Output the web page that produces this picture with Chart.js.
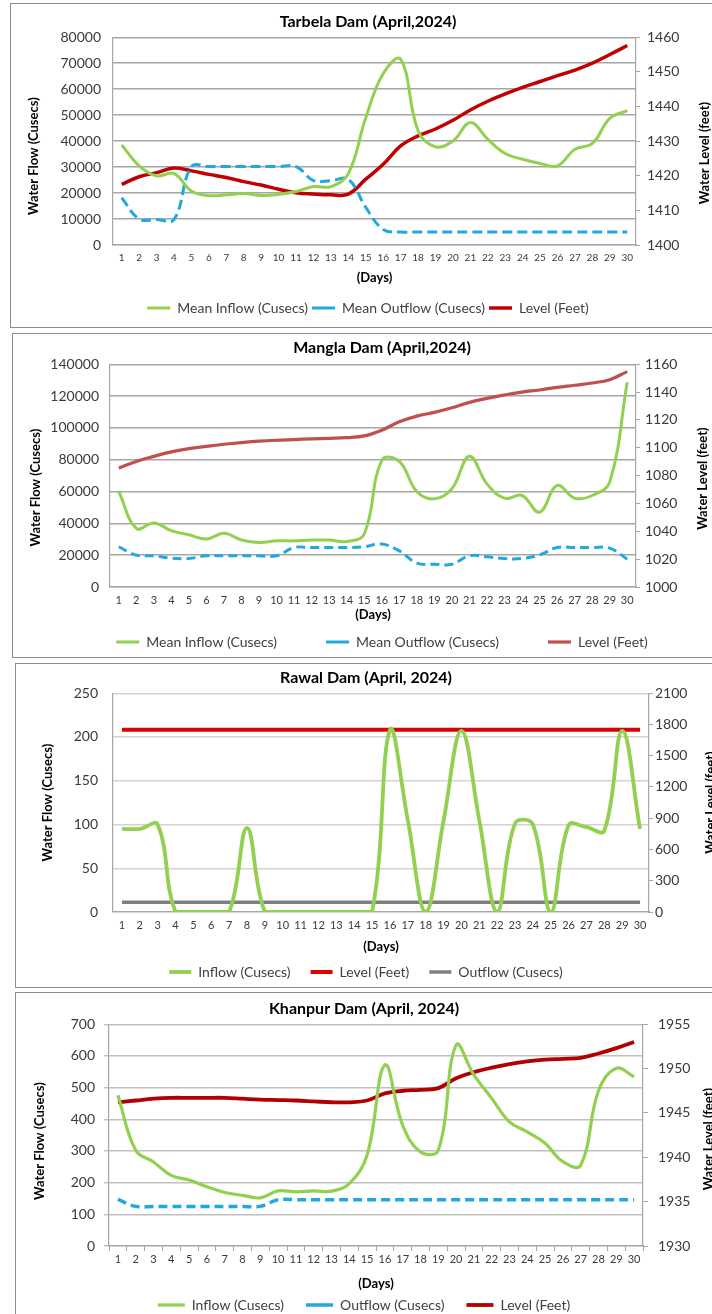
<!DOCTYPE html>
<html>
<head>
<meta charset="utf-8">
<title>Dams - April 2024</title>
<script src="https://cdn.jsdelivr.net/npm/chart.js@4.4.1/dist/chart.umd.min.js"></script>
<style>
  html, body { margin: 0; padding: 0; background: #fff; }
  body { width: 712px; height: 1314px; overflow: hidden; position: relative; }
  .panel { position: absolute; border: 1px solid #8c8c8c; overflow: hidden; background: #fff; }
  .panel canvas { position: absolute; left: 0; top: 0; }
</style>
</head>
<body>
<div class="panel" style="left:10px; top:3px; width:740px; height:323px;"><canvas id="tarbela" width="714" height="322"></canvas></div>
<div class="panel" style="left:12px; top:333px; width:740px; height:323px;"><canvas id="mangla" width="738" height="323"></canvas></div>
<div class="panel" style="left:15px; top:663px; width:740px; height:323px;"><canvas id="rawal" width="700" height="323"></canvas></div>
<div class="panel" style="left:15px; top:992px; width:740px; height:330px;"><canvas id="khanpur" width="696" height="321"></canvas></div>

<script>
// days of April
const days = ['1', '2', '3', '4', '5', '6', '7', '8', '9', '10', '11', '12', '13', '14', '15',
  '16', '17', '18', '19', '20', '21', '22', '23', '24', '25', '26', '27', '28', '29', '30'];

// Tarbela (cusecs / feet)
const tarbelaInflow = [38500, 30500, 26600, 27500, 20800, 19000, 19300, 19800, 19100, 19500, 20600, 22500, 22500, 27500, 49000,
  66000, 71500, 44000, 37800, 40000, 47200, 40700, 35200, 33000, 31400, 30500, 36900, 39100, 48800, 51700];
const tarbelaOutflow = [18200, 10000, 9800, 9800, 30200, 30200, 30200, 30200, 30200, 30200, 30200, 24800, 24800, 25300, 14500,
  6000, 5000, 5000, 5000, 5000, 5000, 5000, 5000, 5000, 5000, 5000, 5000, 5000, 5000, 5000];
const tarbelaLevel = [1417.5, 1419.7, 1420.9, 1422.2, 1421.4, 1420.4, 1419.5, 1418.3, 1417.3, 1416.1, 1415.1, 1414.7, 1414.5, 1414.7, 1419,
  1423.3, 1428.6, 1431.5, 1433.5, 1436, 1439, 1441.5, 1443.6, 1445.5, 1447.2, 1448.9, 1450.5, 1452.5, 1455, 1457.6];

// Mangla
const manglaInflow = [60000, 36800, 40200, 35400, 32800, 30100, 33700, 29500, 28000, 29000, 29000, 29500, 29500, 28600, 33300,
  79600, 79000, 60000, 55400, 61700, 82100, 64800, 55800, 57500, 47000, 63800, 55800, 57500, 65900, 128600];
const manglaOutflow = [25300, 20000, 19600, 18100, 17900, 19600, 19600, 19600, 19600, 19600, 24800, 24800, 24800, 24800, 25300,
  27000, 22700, 15000, 14300, 14300, 19600, 19000, 17900, 17900, 20200, 24800, 24800, 24800, 24400, 17500];
const manglaLevel = [1085.4, 1090.2, 1093.8, 1097, 1099.4, 1101, 1102.5, 1103.7, 1104.7, 1105.4, 1105.9, 1106.4, 1106.8, 1107.3, 1108.5,
  1112.6, 1118.6, 1122.7, 1125.4, 1128.7, 1132.6, 1135.5, 1137.9, 1140, 1141.5, 1143.4, 1144.9, 1146.5, 1148.9, 1154.7];

// Rawal
const rawalInflow = [95, 95, 100, 0, 0, 0, 0, 96, 0, 0, 0, 0, 0, 0, 0,
  208, 105, 0, 104, 207, 105, 0, 101, 100, 0, 99, 97, 93, 207, 95];
const rawalLevel = [1750, 1750, 1750, 1750, 1750, 1750, 1750, 1750, 1750, 1750, 1750, 1750, 1750, 1750, 1750,
  1750, 1750, 1750, 1750, 1750, 1750, 1750, 1750, 1750, 1750, 1750, 1750, 1750, 1750, 1750];
const rawalOutflow = [11, 11, 11, 11, 11, 11, 11, 11, 11, 11, 11, 11, 11, 11, 11,
  11, 11, 11, 11, 11, 11, 11, 11, 11, 11, 11, 11, 11, 11, 11];

// Khanpur
const khanpurInflow = [476, 302, 265, 223, 208, 187, 169, 160, 152, 174, 171, 174, 173, 197, 287,
  571, 381, 297, 302, 634, 540, 466, 392, 360, 324, 266, 255, 490, 561, 534];
const khanpurOutflow = [147, 125, 125, 125, 125, 125, 125, 125, 125, 146, 146, 146, 146, 146, 146,
  146, 146, 146, 146, 146, 146, 146, 146, 146, 146, 146, 146, 146, 146, 146];
const khanpurLevel = [1946.2, 1946.4, 1946.6, 1946.7, 1946.7, 1946.7, 1946.7, 1946.6, 1946.5, 1946.45, 1946.4, 1946.3, 1946.2, 1946.2, 1946.4,
  1947.2, 1947.5, 1947.6, 1947.8, 1948.9, 1949.6, 1950.1, 1950.5, 1950.8, 1951, 1951.1, 1951.2, 1951.7, 1952.3, 1953];

const GREEN = '#92d050';
const BLUE = '#21a8e0';

Chart.defaults.font.family = 'Lato, "Noto Sans", sans-serif';
Chart.defaults.color = '#3a3a3a';

// axis titles drawn bottom-to-top on both sides, like the spreadsheet original
const sideTitles = {
  id: 'sideTitles',
  afterDraw(chart, args, opts) {
    const { ctx, chartArea } = chart;
    const mid = (chartArea.top + chartArea.bottom) / 2;
    (opts.items || []).forEach(t => {
      ctx.save();
      ctx.translate(t.x, mid + t.dy);
      ctx.rotate(-Math.PI / 2);
      ctx.font = 'bold 13px Lato, "Noto Sans", sans-serif';
      ctx.fillStyle = '#000';
      ctx.textAlign = 'center';
      ctx.textBaseline = 'middle';
      ctx.fillText(t.text, 0, 0);
      ctx.restore();
    });
  }
};

function series(label, data, color, width, axis, dash) {
  return {
    label: label,
    data: data,
    borderColor: color,
    backgroundColor: color,
    borderWidth: width,
    borderDash: dash || [],
    pointRadius: 0,
    tension: 0.4,
    fill: false,
    yAxisID: axis
  };
}

function damChart(id, s) {
  const tickNum = v => String(v);
  // wide legend gaps without a tall legend box: pad the text, not the box
  const legendLabels = chart => {
    const items = Chart.defaults.plugins.legend.labels.generateLabels(chart);
    items.forEach((it, i) => {
      if (i < items.length - 1) it.text += ' '.repeat(s.legendSpaces || 0);
    });
    return items;
  };
  return new Chart(document.getElementById(id), {
    type: 'line',
    data: { labels: days, datasets: s.datasets },
    plugins: [sideTitles],
    options: {
      responsive: false,
      animation: false,
      events: [],
      layout: { padding: { left: 0, right: 0, top: 0, bottom: s.padBottom } },
      plugins: {
        title: {
          display: true, text: s.title, color: '#000',
          font: { size: 16, weight: 'bold' },
          padding: { top: s.titleTop, bottom: s.titleBottom }
        },
        legend: {
          position: 'bottom',
          maxHeight: s.legendHeight,
          labels: {
            usePointStyle: true, pointStyle: 'line', pointStyleWidth: s.swatch,
            padding: s.legendGap, color: '#404040', font: { size: 14 },
            generateLabels: legendLabels
          }
        },
        tooltip: { enabled: false },
        sideTitles: {
          items: [
            { text: 'Water Flow (Cusecs)', x: s.leftTitle[0], dy: s.leftTitle[1] },
            { text: 'Water Level (feet)', x: s.rightTitle[0], dy: s.rightTitle[1] }
          ]
        }
      },
      scales: {
        x: {
          offset: true,
          grid: { display: s.xTicks, offset: true, drawOnChartArea: false, drawTicks: s.xTicks, tickLength: 5, color: '#a6a6a6' },
          border: { display: true, color: '#a6a6a6', width: 1.2 },
          ticks: { color: '#3a3a3a', font: { size: s.xFont }, padding: s.xPad, maxRotation: 0, autoSkip: false },
          title: { display: true, text: '(Days)', color: '#000', font: { size: 13, weight: 'bold' }, padding: { top: 0, bottom: s.daysPad } },
          afterFit: sc => { sc.height = s.xHeight; }
        },
        y: {
          position: 'left',
          min: s.y[0], max: s.y[1],
          ticks: { stepSize: s.y[2], padding: s.yPad, font: { size: 14 }, callback: tickNum },
          grid: { color: s.grid, lineWidth: 1.4, drawTicks: s.yTicks, tickLength: 5 },
          border: { display: true, color: '#a6a6a6', width: 1.2 },
          afterFit: sc => { sc.width = s.yWidth; }
        },
        y1: {
          position: 'right',
          min: s.y1[0], max: s.y1[1],
          ticks: { stepSize: s.y1[2], padding: s.y1Pad, font: { size: 14 }, callback: tickNum },
          grid: { drawOnChartArea: false, drawTicks: true, tickLength: s.y1TickLen, color: '#a6a6a6' },
          border: { display: true, color: '#a6a6a6', width: 1.2 },
          afterFit: sc => { sc.width = s.y1Width; }
        }
      }
    }
  });
}

damChart('tarbela', {
  title: 'Tarbela Dam (April,2024)',
  datasets: [
    series('Mean Inflow (Cusecs)', tarbelaInflow, GREEN, 3, 'y'),
    series('Mean Outflow (Cusecs)', tarbelaOutflow, BLUE, 3, 'y', [10, 5]),
    series('Level (Feet)', tarbelaLevel, '#c00000', 3.5, 'y1')
  ],
  y: [0, 80000, 10000], y1: [1400, 1460, 10],
  grid: '#a6a6a6',
  titleTop: 8, titleBottom: 6, padBottom: 1,
  legendGap: 4, legendHeight: undefined, swatch: 23,
  xHeight: 52, xFont: 10, xPad: 7, xTicks: false, daysPad: 11,
  yWidth: 102, yPad: 12, yTicks: false,
  y1Width: 89, y1Pad: 7, y1TickLen: 4,
  leftTitle: [23, 15], rightTitle: [694, 12]
});

damChart('mangla', {
  title: 'Mangla Dam (April,2024)',
  datasets: [
    series('Mean Inflow (Cusecs)', manglaInflow, GREEN, 3, 'y'),
    series('Mean Outflow (Cusecs)', manglaOutflow, BLUE, 3, 'y', [9, 5]),
    series('Level (Feet)', manglaLevel, '#c0504d', 3.2, 'y1')
  ],
  y: [0, 140000, 20000], y1: [1000, 1160, 20],
  grid: '#a6a6a6',
  titleTop: 4, titleBottom: 7, padBottom: 0,
  legendGap: 6, legendHeight: 28, legendSpaces: 12, swatch: 23,
  xHeight: 42, xFont: 11, xPad: 7, xTicks: false, daysPad: 6,
  yWidth: 97, yPad: 11, yTicks: false,
  y1Width: 115, y1Pad: 5, y1TickLen: 4,
  leftTitle: [23, 12], rightTitle: [690, 3]
});

damChart('rawal', {
  title: 'Rawal Dam (April, 2024)',
  datasets: [
    series('Inflow (Cusecs)', rawalInflow, GREEN, 3.8, 'y'),
    series('Level (Feet)', rawalLevel, '#e00000', 4, 'y1'),
    series('Outflow (Cusecs)', rawalOutflow, '#7f7f7f', 3.5, 'y')
  ],
  y: [0, 250, 50], y1: [0, 2100, 300],
  grid: '#d3d3d3',
  titleTop: 4, titleBottom: 6, padBottom: 0,
  legendGap: 20, legendHeight: 42, swatch: 22,
  xHeight: 33, xFont: 11, xPad: 7, xTicks: false, daysPad: -10,
  yWidth: 97, yPad: 15, yTicks: false,
  y1Width: 67, y1Pad: 2, y1TickLen: 4,
  leftTitle: [32, 0], rightTitle: [695, 0]
});

damChart('khanpur', {
  title: 'Khanpur Dam (April, 2024)',
  datasets: [
    series('Inflow (Cusecs)', khanpurInflow, GREEN, 3.2, 'y'),
    series('Outflow (Cusecs)', khanpurOutflow, BLUE, 3.5, 'y', [9, 5]),
    series('Level (Feet)', khanpurLevel, '#b00000', 3.8, 'y1')
  ],
  y: [0, 700, 100], y1: [1930, 1955, 5],
  grid: '#bfbfbf',
  titleTop: 6, titleBottom: 6, padBottom: 0,
  legendGap: 22, legendHeight: 38, swatch: 27,
  xHeight: 30, xFont: 11, xPad: 2, xTicks: true, daysPad: -16,
  yWidth: 93, yPad: 9, yTicks: true,
  y1Width: 69, y1Pad: 10, y1TickLen: 5,
  leftTitle: [24, 6], rightTitle: [693, 4]
});
</script>
</body>
</html>
